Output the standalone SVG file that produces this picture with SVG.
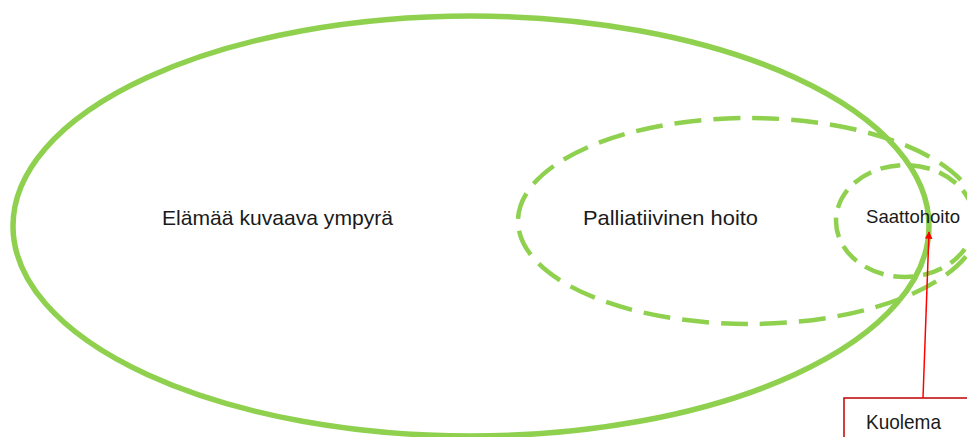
<svg xmlns="http://www.w3.org/2000/svg" width="967" height="437" viewBox="0 0 967 437">
<style>
.txt{font-family:"Liberation Sans",Arial,sans-serif;fill:#1a1a1a}
.solid{fill:none;stroke:#8fd14f;stroke-width:5.5}
.dash{fill:none;stroke:#8fd14f;stroke-width:4.5}
</style>
<defs>
<marker id="arr" viewBox="0 0 10 10" refX="9" refY="5" markerWidth="5" markerHeight="5" orient="auto"><path d="M0,0 L10,5 L0,10 z" fill="#ff0000"/></marker>
</defs>
<rect width="967" height="437" fill="#ffffff"/>
<g id="elama">
<ellipse class="solid" cx="471" cy="226" rx="458" ry="210"/>
<text class="txt" x="162" y="225" font-size="21" textLength="231" lengthAdjust="spacingAndGlyphs">Elämää kuvaava ympyrä</text>
</g>
<g id="palliatiivinen">
<ellipse class="dash" cx="749" cy="221" rx="231" ry="103" stroke-dasharray="27 12"/>
<text class="txt" x="583" y="225" font-size="21" textLength="175" lengthAdjust="spacingAndGlyphs">Palliatiivinen hoito</text>
</g>
<g id="saattohoito">
<ellipse class="dash" cx="905" cy="221" rx="69" ry="56" stroke-dasharray="20 10"/>
<text class="txt" x="866" y="223" font-size="19" textLength="94" lengthAdjust="spacingAndGlyphs">Saattohoito</text>
</g>
<g id="kuolema">
<rect x="844" y="398" width="140" height="60" fill="#ffffff" stroke="#c00000" stroke-width="1.5"/>
<text class="txt" x="866" y="429" font-size="21" textLength="75" lengthAdjust="spacingAndGlyphs">Kuolema</text>
</g>
<g id="connectors">
<line x1="923" y1="398" x2="929" y2="232" stroke="#ff0000" stroke-width="1.5" marker-end="url(#arr)"/>
</g>
</svg>
